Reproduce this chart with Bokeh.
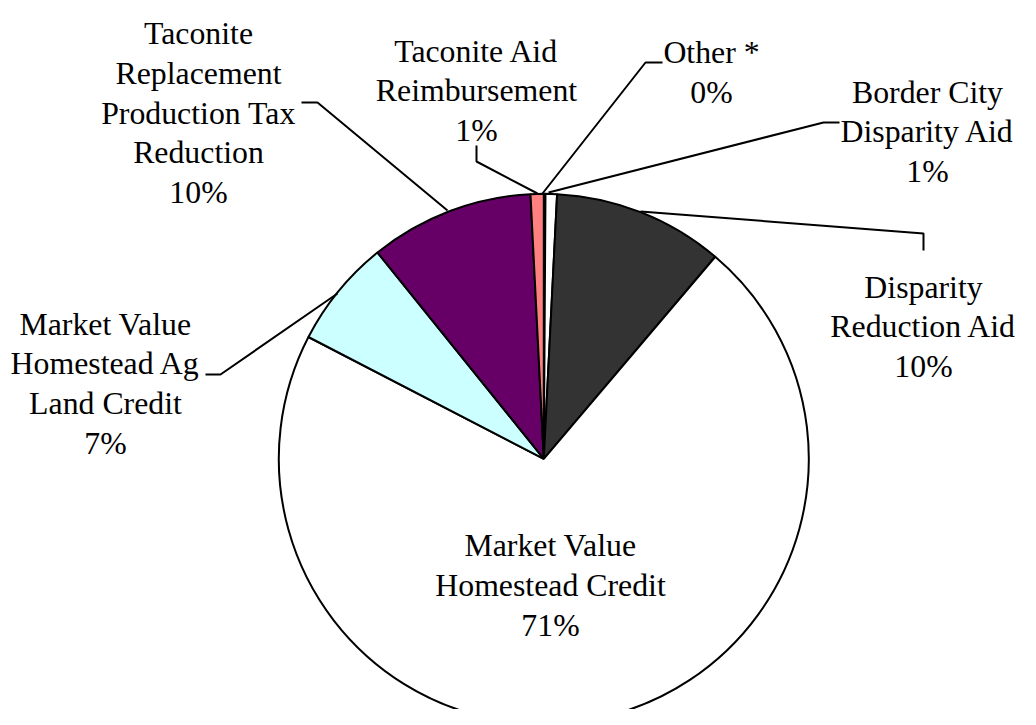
import math
from bokeh.plotting import figure
from bokeh.models import Range1d, ColumnDataSource
from bokeh.core.properties import value
from bokeh.embed import file_html
from bokeh.resources import INLINE

# ---- data (clockwise from 12 o'clock) ----
categories = ["Other *", "Border City\nDisparity Aid", "Disparity\nReduction Aid",
              "Market Value\nHomestead Credit", "Market Value\nHomestead Ag\nLand Credit",
              "Taconite\nReplacement\nProduction Tax\nReduction", "Taconite Aid\nReimbursement"]
shares = [0.1, 0.7, 10.4, 71.4, 6.6, 10.0, 0.8]
colors = ["#FFFFFF", "#FFFFFF", "#333333", "#FFFFFF", "#CCFFFF", "#660066", "#FF8080"]

# ---- layout (picture pixels of the label blocks: centre x, first baseline y) ----
label_cx = [711, 927, 923, 550, 105, 198, 476]
label_y0 = [52, 91.5, 286.5, 545, 323.5, 33, 50.5]
# leader polylines in picture pixels (None = no leader)
leaders = [
    [(662, 62), (645, 62), (542, 193)],
    [(839, 122), (823, 122), (548, 192)],
    [(923, 250), (923, 233), (640, 211)],
    None,
    [(205, 374), (220, 374), (337, 293)],
    [(301, 102), (317, 102), (447, 210)],
    [(476, 145), (476, 161), (537, 193)],
]

W, H = 1020, 709
CX, CY, R = 543.3, 458.3, 265
LINE_H = 39.8
FONT = "Liberation Serif"
FONT_SIZE = "31.8px"


def dx(x):
    return x


def dy(y):
    return H - y


p = figure(width=W, height=H, output_backend="svg", toolbar_location=None,
           x_range=Range1d(0, W), y_range=Range1d(0, H), min_border=0)
p.axis.visible = False
p.grid.visible = False
p.outline_line_color = None
p.background_fill_color = "white"
p.border_fill_color = "white"

total = sum(shares)
starts, ends = [], []
cum = 0.0
for s in shares:
    starts.append(math.pi / 2 - 2 * math.pi * cum / total)
    cum += s
    ends.append(math.pi / 2 - 2 * math.pi * cum / total)

src = ColumnDataSource(dict(start=starts, end=ends, color=colors, name=categories, share=shares))
p.wedge(x=dx(CX), y=dy(CY), radius=R, start_angle="start", end_angle="end",
        direction="clock", fill_color="color", line_color="black", line_width=2, source=src)

# leaders
xs, ys = [], []
for pts in leaders:
    if pts is None:
        continue
    xs.append([dx(a) for a, b in pts])
    ys.append([dy(b) for a, b in pts])
p.multi_line(xs, ys, line_color="black", line_width=2)

# labels
tx, ty, tt = [], [], []
for name, s, cx0, y0 in zip(categories, shares, label_cx, label_y0):
    lines = name.split("\n") + [f"{round(s / total * 100)}%"]
    for i, ln in enumerate(lines):
        tx.append(dx(cx0))
        ty.append(dy(y0 + i * LINE_H))
        tt.append(ln)
p.text(x=tx, y=ty, text=tt, text_align="center", text_baseline="alphabetic",
       text_font=value(FONT), text_font_size=FONT_SIZE, text_color="black")

open("out.html", "w").write(file_html(p, INLINE))
